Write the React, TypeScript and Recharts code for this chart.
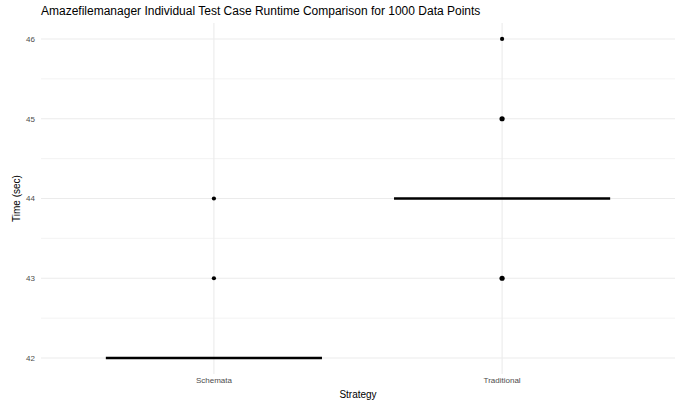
import {
  ComposedChart, Line, Scatter, XAxis, YAxis, CartesianGrid,
} from 'recharts'

const categories = ['Schemata', 'Traditional']
const medians = [42, 44]
// outliers per category: value + how many runs landed on it
const outlierValues = [[43, 44], [43, 45, 46]]
const outlierCounts = [[1, 1], [3, 3, 1]]
const yTicks = [42, 43, 44, 45, 46]
const yMinor = [42.5, 43.5, 44.5, 45.5]

const BOX_HALF = 0.375
const FONT = '"Liberation Sans", Arial, Helvetica, sans-serif'

const medianSegments = medians.map((m, i) => [
  { x: i + 1 - BOX_HALF, y: m },
  { x: i + 1 + BOX_HALF, y: m },
])

const points = outlierValues.flatMap((vals, i) =>
  vals.map((v, j) => ({ x: i + 1, y: v, n: outlierCounts[i][j] })),
)

function Dot(props: any) {
  const r = props.payload.n > 1 ? 2.6 : 2.1
  return <circle cx={props.cx} cy={props.cy} r={r} fill="#000000" />
}

export default function App() {
  return (
    <div style={{ position: 'absolute', left: 0, top: 0, width: 682, height: 403, background: '#fff', fontFamily: FONT }}>
      <div style={{ position: 'absolute', left: 41, top: 4, fontSize: 12, color: '#000', whiteSpace: 'nowrap' }}>
        Amazefilemanager Individual Test Case Runtime Comparison for 1000 Data Points
      </div>
      <ComposedChart width={682} height={403} margin={{ top: 23, right: 7, bottom: 0, left: 0 }}>
        <CartesianGrid
          horizontalValues={yMinor}
          vertical={false}
          stroke="#ebebeb"
          strokeWidth={0.6}
        />
        <CartesianGrid
          horizontalValues={yTicks}
          verticalValues={[1, 2]}
          stroke="#ebebeb"
          strokeWidth={1.1}
        />
        <XAxis
          dataKey="x"
          type="number"
          domain={[0.4, 2.6]}
          ticks={[1, 2]}
          tickFormatter={(v: number) => categories[v - 1]}
          axisLine={false}
          tickLine={false}
          tickSize={2}
          tickMargin={1}
          height={29}
          tick={{ fill: '#4d4d4d', fontSize: 8, fontFamily: FONT }}
          allowDataOverflow
          label={{ value: 'Strategy', position: 'insideBottom', offset: 5, fill: '#000', fontSize: 10, fontFamily: FONT }}
        />
        <YAxis
          type="number"
          domain={[41.8, 46.2]}
          ticks={yTicks}
          axisLine={false}
          tickLine={false}
          tickSize={4}
          tickMargin={2}
          width={41}
          tick={{ fill: '#4d4d4d', fontSize: 8, fontFamily: FONT }}
          allowDataOverflow
          label={{ value: 'Time (sec)', angle: -90, position: 'insideLeft', offset: 16, fill: '#000', fontSize: 10, fontFamily: FONT, style: { textAnchor: 'middle' } }}
        />
        {medianSegments.map((seg, i) => (
          <Line
            key={categories[i]}
            data={seg}
            dataKey="y"
            stroke="#000000"
            strokeWidth={2.4}
            dot={false}
            activeDot={false}
            isAnimationActive={false}
          />
        ))}
        <Scatter data={points} dataKey="y" shape={Dot} isAnimationActive={false} />
      </ComposedChart>
    </div>
  )
}
